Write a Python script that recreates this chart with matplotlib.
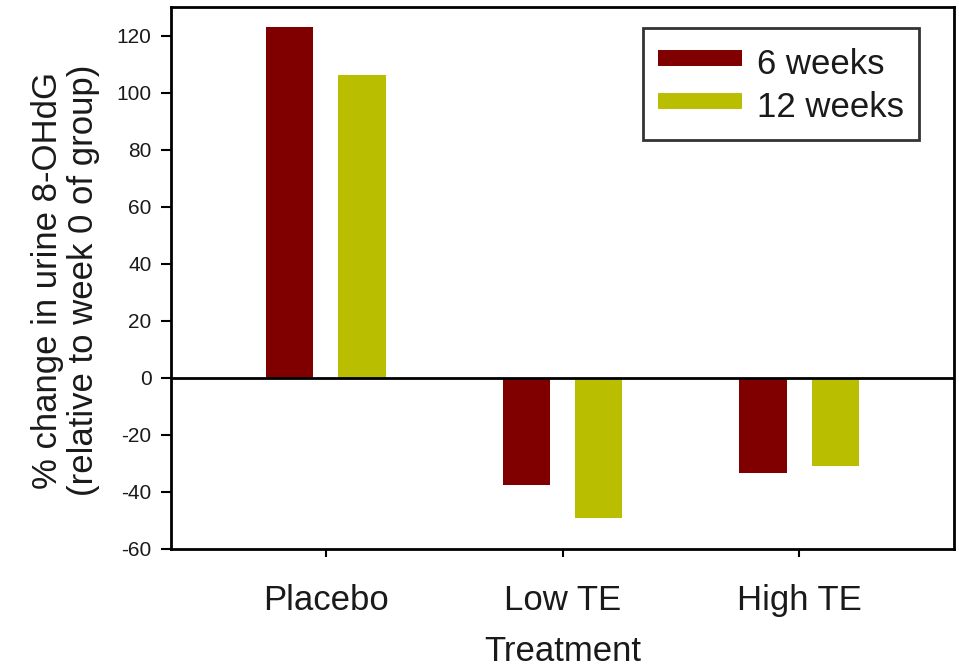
import matplotlib
matplotlib.use("Agg")
import matplotlib.pyplot as plt
from matplotlib.lines import Line2D
import numpy as np

categories = ["Placebo", "Low TE", "High TE"]
series_names = ["6 weeks", "12 weeks"]
weeks6 = [123, -37.5, -33.2]
weeks12 = [106, -49, -30.8]
yticks = [-60, -40, -20, 0, 20, 40, 60, 80, 100, 120]
colors = ['#800000', '#b9be00']

plt.rcParams['font.family'] = ['Liberation Sans', 'DejaVu Sans']
plt.rcParams['axes.unicode_minus'] = False
txt = '#1a1a1a'
big = 25

fig = plt.figure(figsize=(9.59, 6.68), dpi=100)
ax = fig.add_axes([171/959, 1-549/668, (954-171)/959, (549-7)/668])

x = np.arange(len(categories))
w = 0.2
off = 0.153
ax.bar(x - off, weeks6, width=w, color=colors[0], zorder=2)
ax.bar(x + off, weeks12, width=w, color=colors[1], zorder=2)
ax.axhline(0, color='black', lw=2, zorder=3)

ax.set_xlim(-0.655, 2.655)
ax.set_ylim(-60, 130)
ax.set_yticks(yticks)
ax.set_xticks(x)
ax.set_xticklabels(categories, fontsize=big, color=txt)
ax.tick_params(axis='y', direction='out', length=7, width=1.5, pad=7, labelsize=15, labelcolor=txt)
ax.tick_params(axis='x', direction='out', length=6, width=1.5, pad=19)
for s in ax.spines.values():
    s.set_linewidth(2)
    s.set_color('black')

ax.set_xlabel("Treatment", fontsize=big, color=txt)
ax.xaxis.set_label_coords(0.5, -0.158)
ax.set_ylabel("% change in urine 8-OHdG\n(relative to week 0 of group)", fontsize=big,
              color=txt, linespacing=1.12)
ax.yaxis.set_label_coords(-0.091, 0.495)

handles = [Line2D([], [], color=c, lw=11.5, solid_capstyle='butt') for c in colors]
leg = ax.legend(handles, series_names, loc='upper right',
                bbox_to_anchor=((919-171)/(954-171), 1-(28-7)/(549-7)),
                fontsize=big, frameon=True, fancybox=False, handlelength=2.42, handleheight=1.4,
                handletextpad=0.45, borderpad=0.42, labelspacing=0.08, borderaxespad=0)
leg.get_frame().set_edgecolor('black')
leg.get_frame().set_linewidth(2)
for t in leg.get_texts():
    t.set_color(txt)

fig.savefig("out.png", dpi=100)
